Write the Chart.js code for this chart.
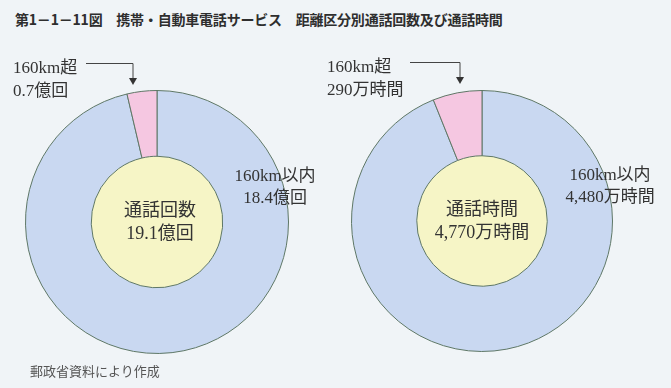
<!DOCTYPE html>
<html>
<head>
<meta charset="utf-8">
<script src="https://cdn.jsdelivr.net/npm/chart.js@4.4.1/dist/chart.umd.min.js"></script>
<style>
    html, body { margin: 0; padding: 0; }
    body {
        width: 671px; height: 388px; overflow: hidden; position: relative;
        background: #f0f4f7;
        font-family: 'Liberation Serif', 'Noto Sans CJK JP', serif;
    }
    canvas { position: absolute; left: 0; top: 0; }
    #title {
        position: absolute; left: 15px; top: 9px;
        font-family: 'Noto Sans CJK JP', sans-serif; font-weight: 700;
        font-size: 14px; color: #2e2e2e; white-space: pre; letter-spacing: -0.2px;
    }
    #note {
        position: absolute; left: 30px; top: 361px;
        font-size: 13px; color: #555; white-space: pre;
    }
</style>
</head>
<body>
<div id="title">第1－1－11図　携帯・自動車電話サービス　距離区分別通話回数及び通話時間</div>
<canvas id="chart-count" width="671" height="388"></canvas>
<canvas id="chart-time" width="671" height="388"></canvas>
<div id="note">郵政省資料により作成</div>
<script>
// 区分: 160km以内 / 160km超
const CATEGORIES = ['160km以内', '160km超'];
const COUNT_VALUES = [18.4, 0.7];      // 億回
const COUNT_TOTAL = [19.1];
const TIME_VALUES = [4480, 290];       // 万時間
const TIME_TOTAL = [4770];

const COLORS = {
    near: '#c9d8f1',   // light blue
    far: '#f5c7e1',    // pink
    center: '#f6f5c6', // pale yellow
    border: '#5e7766',
    text: '#333333'
};

const TEXT_FONT = "'Liberation Serif', 'Noto Sans CJK JP', serif";

function fmt(n) {
    return n.toLocaleString('en-US');
}

// labels drawn around each donut
function labelPlugin(opts) {
    return {
        id: 'donutLabels',
        afterDraw(chart) {
            const ctx = chart.ctx;
            const area = chart.chartArea;
            const cx = (area.left + area.right) / 2;
            const cy = (area.top + area.bottom) / 2;

            ctx.save();
            ctx.fillStyle = COLORS.text;
            ctx.textBaseline = 'middle';

            // center
            ctx.textAlign = 'center';
            ctx.font = '18px ' + TEXT_FONT;
            ctx.fillText(opts.centerTitle, cx + opts.centerDx, cy - 11);
            ctx.fillText(opts.centerValue, cx + opts.centerDx, cy + 12);

            // inner side label (160km以内)
            ctx.font = '17px ' + TEXT_FONT;
            ctx.fillText(opts.nearLabel, opts.nearX, opts.nearY);
            ctx.fillText(opts.nearValue, opts.nearX, opts.nearY + 22);

            // callout (160km超)
            ctx.textAlign = 'left';
            ctx.fillText(opts.farLabel, opts.farX, opts.farY);
            ctx.fillText(opts.farValue, opts.farX, opts.farY + 23);

            ctx.strokeStyle = '#444';
            ctx.lineWidth = 1;
            ctx.beginPath();
            ctx.moveTo(opts.lineStart, opts.farY - 5.5);
            ctx.lineTo(opts.arrowX, opts.farY - 5.5);
            ctx.lineTo(opts.arrowX, opts.farY + 10);
            ctx.stroke();
            ctx.fillStyle = '#333';
            ctx.beginPath();
            ctx.moveTo(opts.arrowX - 4, opts.farY + 9);
            ctx.lineTo(opts.arrowX + 4, opts.farY + 9);
            ctx.lineTo(opts.arrowX, opts.farY + 16);
            ctx.closePath();
            ctx.fill();
            ctx.restore();
        }
    };
}

function makeDonut(canvasId, values, total, padding, labels) {
    const ctx = document.getElementById(canvasId).getContext('2d');
    return new Chart(ctx, {
        type: 'doughnut',
        data: {
            labels: CATEGORIES,
            datasets: [{
                data: values,
                backgroundColor: [COLORS.near, COLORS.far],
                borderColor: COLORS.border,
                borderWidth: 1,
                weight: 1
            }, {
                data: total,
                backgroundColor: [COLORS.center],
                borderWidth: 0,
                weight: 1
            }]
        },
        options: {
            responsive: false,
            animation: false,
            cutout: 0,
            layout: { padding: padding },
            events: [],
            plugins: {
                legend: { display: false },
                tooltip: { enabled: false }
            }
        },
        plugins: [labelPlugin(labels)]
    });
}

makeDonut('chart-count', COUNT_VALUES, COUNT_TOTAL,
    { left: 25, top: 90, right: 382, bottom: 34 },
    {
        centerTitle: '通話回数', centerValue: COUNT_TOTAL[0] + '億回', centerDx: 3,
        nearLabel: CATEGORIES[0], nearValue: COUNT_VALUES[0] + '億回', nearX: 275, nearY: 177,
        farLabel: CATEGORIES[1], farValue: COUNT_VALUES[1] + '億回', farX: 13, farY: 69,
        lineStart: 86, arrowX: 133
    });

makeDonut('chart-time', TIME_VALUES, TIME_TOTAL,
    { left: 351, top: 90, right: 58, bottom: 36 },
    {
        centerTitle: '通話時間', centerValue: fmt(TIME_TOTAL[0]) + '万時間', centerDx: 0,
        nearLabel: CATEGORIES[0], nearValue: fmt(TIME_VALUES[0]) + '万時間', nearX: 610, nearY: 176,
        farLabel: CATEGORIES[1], farValue: TIME_VALUES[1] + '万時間', farX: 327, farY: 68,
        lineStart: 410, arrowX: 460
    });
</script>
</body>
</html>
